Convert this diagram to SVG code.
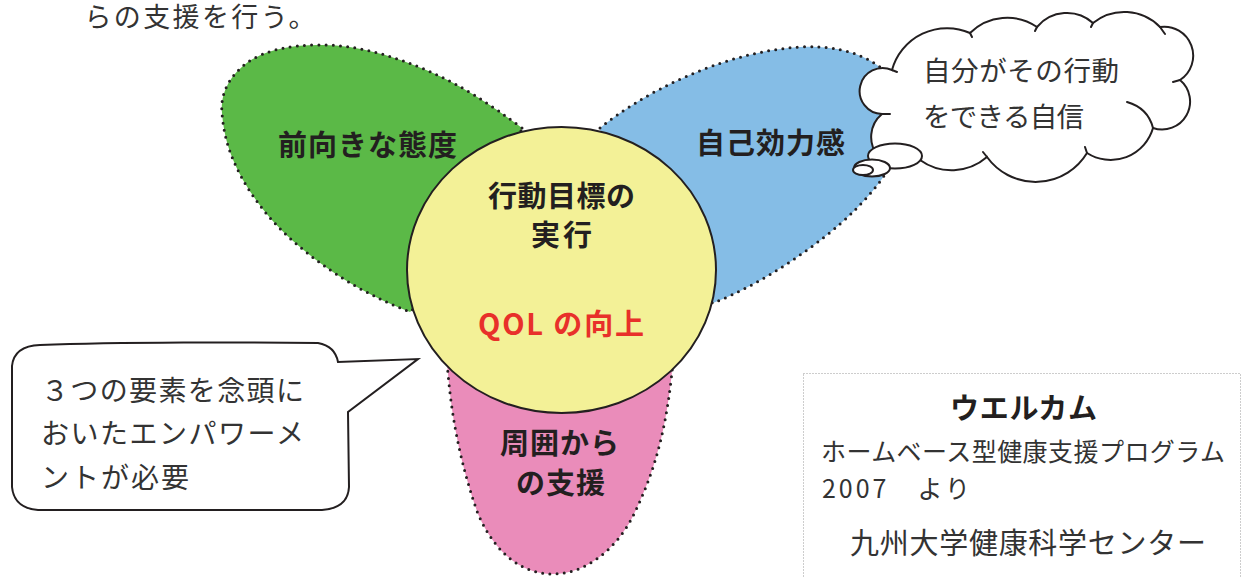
<svg xmlns="http://www.w3.org/2000/svg" width="1247" height="577" viewBox="0 0 1247 577">
<style>
.lbl{font-family:"Noto Sans CJK JP","Noto Sans",sans-serif;font-weight:700;font-size:29px;fill:#231f20;}
.txt{font-family:"Noto Sans CJK JP","Noto Sans",sans-serif;font-weight:400;fill:#333333;}
.petal{stroke:#231f20;stroke-width:3;stroke-dasharray:0 7.2;stroke-linecap:round;}
.line{fill:#ffffff;stroke:#231f20;stroke-width:2;}
</style>
<rect width="1247" height="577" fill="#ffffff"/>
<text class="txt" x="84.4" y="27" font-size="27" textLength="231" lengthAdjust="spacing">らの支援を行う。</text>

<g id="petal-green">
<path class="petal" fill="#5bb947" d="M522,128 C490,104 462,86 433,73 C395,56 355,44 318,45 C290,45 266,50 248,62 C229,76 220,94 222,113 C224,140 232,160 243,180 C258,206 278,229 300,247 C320,264 340,277 357,287 C375,297 392,305 410,312 L480,250 Z"/>
<text class="lbl" x="278" y="156" textLength="179" lengthAdjust="spacing">前向きな態度</text>
</g>

<g id="petal-blue">
<path class="petal" fill="#85bde6" d="M600,128 C640,95 720,52 800,47 C860,44 900,70 905,110 C908,150 880,185 855,210 C820,245 760,285 713,303 L620,260 Z"/>
<text class="lbl" x="696" y="154" textLength="149" lengthAdjust="spacing">自己効力感</text>
</g>

<g id="petal-pink">
<path class="petal" fill="#ea8cba" d="M446,350 C449,385 452,440 478,514 C496,555 523,574 553,574 C585,574 615,550 632,518 C656,470 668,425 674,350 L560,320 Z"/>
<text class="lbl" x="500" y="454" textLength="119" lengthAdjust="spacing">周囲から</text>
<text class="lbl" x="516" y="494" textLength="89" lengthAdjust="spacing">の支援</text>
</g>

<g id="center">
<ellipse cx="561.5" cy="270" rx="154.5" ry="143" fill="#f3f197" stroke="#231f20" stroke-width="2"/>
<text class="lbl" x="488" y="207" textLength="147" lengthAdjust="spacing">行動目標の</text>
<text class="lbl" x="531" y="246" textLength="61" lengthAdjust="spacing">実行</text>
<text class="lbl" x="478" y="335" textLength="166" lengthAdjust="spacing" style="fill:#e8302a">QOL の向上</text>
</g>

<g id="thought-cloud">
<path class="line" d="M892,70 A23,23 0 1 0 882,114 A27,27 0 0 0 920,160 A54,54 0 0 0 987,157 A60,60 0 0 0 1087,153 A44,44 0 0 0 1153,128 A28,28 0 0 0 1180,80 A29,29 0 0 0 1160,27 A50,50 0 0 0 1093,23 A39,39 0 0 0 1037,27 A53,53 0 0 0 970,33 A57,57 0 0 0 892,70 Z"/>
<path fill="none" stroke="#231f20" stroke-width="2" stroke-linecap="round" d="M892,70 l5,2 M970,33 l2,4 M1037,27 l-2,4 M1093,23 l-2,4 M1160,27 l5,7 M1180,80 l-7,2 M1087,153 l-2,-6 M987,157 l-4,-5 M882,114 l8,0 M1127,102 Q1148,108 1153,128"/>
<ellipse class="line" cx="895" cy="156" rx="27" ry="12.5"/>
<ellipse class="line" cx="872" cy="168" rx="18" ry="8.5"/>
<ellipse class="line" cx="863" cy="170" rx="10" ry="5"/>
<text class="txt" x="923" y="81" font-size="27.5" textLength="196" lengthAdjust="spacing">自分がその行動</text>
<text class="txt" x="923" y="127" font-size="27.5" textLength="161" lengthAdjust="spacing">をできる自信</text>
</g>

<g id="callout">
<path class="line" d="M40,345 C120,342 250,342 318,343 Q335,346 338,362 L418,359 L348,412 L349,487 Q348,508 322,510 L38,510 Q14,508 12,487 L12,366 Q14,346 40,345 Z"/>
<text class="txt" x="41" y="401" font-size="28" textLength="263" lengthAdjust="spacing">３つの要素を念頭に</text>
<text class="txt" x="41" y="444" font-size="28" textLength="263" lengthAdjust="spacing">おいたエンパワーメ</text>
<text class="txt" x="41" y="488" font-size="28" textLength="148" lengthAdjust="spacing">ントが必要</text>
</g>

<g id="source-box">
<rect x="803.5" y="373.5" width="437" height="230" fill="none" stroke="#9a9a9a" stroke-width="1" stroke-dasharray="1 2"/>
<text class="lbl" x="950" y="419" textLength="147" lengthAdjust="spacing">ウエルカム</text>
<text class="txt" x="821" y="461" font-size="25" textLength="404" lengthAdjust="spacing">ホームベース型健康支援プログラム</text>
<text class="txt" x="822" y="498" font-size="25" textLength="148" lengthAdjust="spacing">2007　より</text>
<text class="txt" x="850" y="554" font-size="29" textLength="356" lengthAdjust="spacing">九州大学健康科学センター</text>
</g>
</svg>
